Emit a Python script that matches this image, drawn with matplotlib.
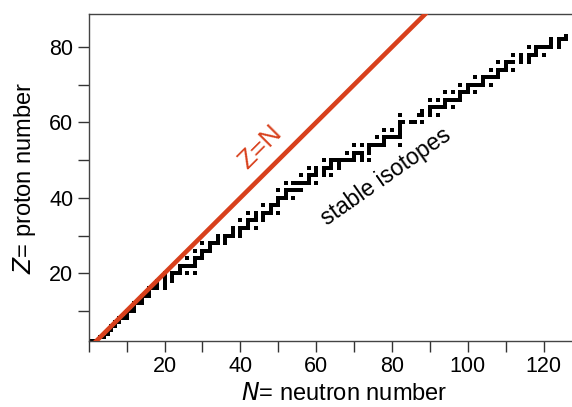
import numpy as np
import matplotlib
matplotlib.use("Agg")
import matplotlib.pyplot as plt
from matplotlib.ticker import MultipleLocator

plt.rcParams["font.family"] = ["Liberation Sans", "DejaVu Sans"]

# stable nuclides: neutron numbers N for each proton number Z = 1..83
proton_numbers = list(range(1, 84))
stable_n = [
    [0, 1], [1, 2], [3, 4], [5], [5, 6], [6, 7], [7, 8], [8, 9, 10], [10],
    [10, 11, 12], [12], [12, 13, 14], [14], [14, 15, 16], [16],
    [16, 17, 18, 20], [18, 20], [18, 20, 22], [20, 22],
    [20, 22, 23, 24, 26, 28], [24], [24, 25, 26, 27, 28], [28],
    [26, 28, 29, 30], [30], [28, 30, 31, 32], [32], [30, 32, 33, 34, 36],
    [34, 36], [34, 36, 37, 38, 40], [38, 40], [38, 40, 41, 42, 44], [42],
    [40, 42, 43, 44, 46], [44, 46], [42, 44, 46, 47, 48, 50], [48],
    [46, 48, 49, 50], [50], [50, 51, 52, 54], [52],
    [50, 52, 53, 54, 55, 56], [],
    [52, 54, 55, 56, 57, 58, 60], [58], [56, 58, 59, 60, 62, 64], [60, 62],
    [58, 60, 62, 63, 64, 66], [64, 66],
    [62, 64, 65, 66, 67, 68, 69, 70, 72, 74], [70, 72],
    [68, 70, 71, 72, 74], [74], [70, 72, 74, 75, 76, 77, 78, 82], [78],
    [76, 78, 79, 80, 81, 82], [82], [78, 80, 82], [82],
    [82, 83, 85, 86, 88], [], [82, 87, 88, 90, 92], [88, 90],
    [90, 91, 92, 93, 94, 96], [94], [90, 92, 94, 95, 96, 97, 98], [98],
    [94, 96, 98, 99, 100, 102], [100], [98, 100, 101, 102, 103, 104, 106],
    [104], [102, 104, 105, 106, 107, 108], [108], [106, 108, 109, 110, 112],
    [110], [108, 110, 111, 112, 114, 116], [114, 116],
    [112, 114, 116, 117, 118, 120], [118],
    [116, 118, 119, 120, 121, 122, 124], [122, 124], [122, 124, 125, 126],
    [126],
]

line_n = [0, 90]
line_z = [0, 90]

iso_n = [n for ns in stable_n for n in ns]
iso_z = [z for z, ns in zip(proton_numbers, stable_n) for _ in ns]

fig = plt.figure(figsize=(5.72, 4.07), dpi=100)
ax = fig.add_axes([0.155, 0.162, 0.895, 0.804])

ax.plot(iso_n, iso_z, linestyle="none", marker="s", markersize=3.0,
        markeredgewidth=0, color="black", zorder=2)
ax.plot(line_n, line_z, color="#d8401c", linewidth=3.3, zorder=3,
        solid_capstyle="butt")

ax.text(45.3, 53.5, "Z=N", color="#d8401c", fontsize=19, rotation=45,
        ha="center", va="center")
ax.text(78.5, 45.5, "stable isotopes", color="black", fontsize=16.5,
        rotation=35, ha="center", va="center")

ax.set_xlim(0, 135)
ax.set_ylim(2, 88.8)
ax.xaxis.set_major_locator(MultipleLocator(20))
ax.xaxis.set_minor_locator(MultipleLocator(10))
ax.yaxis.set_major_locator(MultipleLocator(20))
ax.yaxis.set_minor_locator(MultipleLocator(10))
ax.tick_params(which="both", direction="out", length=8, width=1,
               color="#333333", labelsize=15.5, pad=3)
ax.set_xticks([20, 40, 60, 80, 100, 120])
ax.set_yticks([20, 40, 60, 80])

for side in ["left", "bottom", "top"]:
    ax.spines[side].set_color("#444444")
    ax.spines[side].set_linewidth(1.0)
ax.spines["right"].set_visible(False)

ax.set_xlabel("$\\mathit{N}$= neutron number", fontsize=17, labelpad=4)
ax.set_ylabel("$\\mathit{Z}$= proton number", fontsize=17, labelpad=8)

fig.savefig("out.png", dpi=100)
